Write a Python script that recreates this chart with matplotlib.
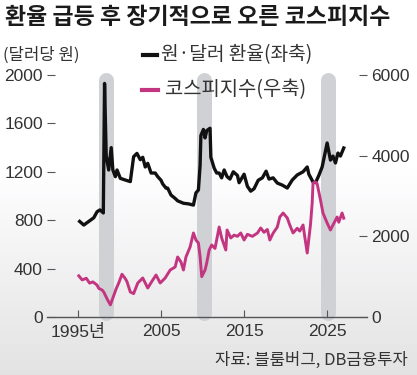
import numpy as np
import matplotlib.pyplot as plt

# 원·달러 환율 (좌축)
fx_year = [1995.2, 1995.7, 1996.3, 1996.9, 1997.3, 1997.65, 1998.05, 1998.2, 1998.4, 1998.7,
           1999.0, 1999.2, 1999.5, 1999.7, 2000.1, 2000.7, 2001.3, 2001.7, 2002.1, 2002.5,
           2002.8, 2003.1, 2003.4, 2003.8, 2004.3, 2004.6, 2005.0, 2005.2, 2005.6, 2005.8,
           2006.2, 2006.7, 2007.0, 2007.7, 2008.3, 2008.9, 2009.2, 2009.5, 2009.7, 2009.8,
           2010.1, 2010.3, 2010.5, 2010.9, 2011.0, 2011.4, 2011.7, 2012.0, 2012.3, 2012.6,
           2012.95, 2013.3, 2013.7, 2014.2, 2014.4, 2015.0, 2015.4, 2015.8, 2016.2, 2016.7,
           2017.2, 2017.65, 2018.0, 2018.5, 2019.0, 2019.6, 2020.2, 2020.8, 2021.4, 2022.1,
           2022.6, 2022.8, 2023.3, 2023.6, 2024.0, 2024.4, 2025.0, 2025.4, 2025.7, 2026.0,
           2026.3, 2026.6, 2026.9, 2027.0]
fx = [790, 760, 790, 820, 870, 885, 860, 1930, 1330, 1215,
      1400, 1215, 1160, 1215, 1146, 1132, 1119, 1325, 1352, 1300,
      1320, 1240, 1270, 1190, 1190, 1160, 1130, 1100, 1065, 1065,
      1008, 980, 960, 940, 935, 925, 1025, 1050, 1250, 1500,
      1550, 1480, 1540, 1560, 1320, 1230, 1190, 1190, 1150, 1215,
      1160, 1140, 1200, 1170, 1110, 1180, 1080, 1040, 1060, 1130,
      1150, 1205, 1140, 1150, 1107, 1090, 1066, 1132, 1174, 1200,
      1240, 1180, 1116, 1110, 1170, 1240, 1438, 1297, 1330, 1273,
      1355, 1330, 1380, 1397]

# 코스피지수 (우축)
kospi_year = [1995.1, 1995.5, 1996.0, 1996.4, 1996.8, 1997.3, 1997.5, 1997.9, 1998.1, 1998.5,
              1998.9, 1999.2, 1999.6, 1999.9, 2000.3, 2000.7, 2000.9, 2001.3, 2001.7, 2002.2,
              2002.8, 2003.4, 2004.0, 2004.4, 2004.9, 2005.5, 2006.1, 2006.7, 2007.0, 2007.4,
              2007.7, 2008.0, 2008.5, 2008.9, 2009.2, 2009.5, 2009.7, 2009.9, 2010.3, 2010.5,
              2010.8, 2011.1, 2011.5, 2012.0, 2012.3, 2012.8, 2012.95, 2013.4, 2013.8, 2014.2,
              2014.6, 2015.0, 2015.4, 2016.0, 2016.6, 2017.0, 2017.4, 2017.8, 2018.1, 2018.5,
              2019.0, 2019.3, 2019.7, 2020.2, 2020.5, 2020.9, 2021.4, 2021.7, 2022.1, 2022.3,
              2022.6, 2023.0, 2023.2, 2023.3, 2023.6, 2023.8, 2024.2, 2024.5, 2025.0, 2025.4,
              2025.7, 2026.2, 2026.4, 2026.8, 2027.0]
kospi = [1020, 920, 960, 840, 870, 790, 710, 670, 620, 450,
         300, 470, 700, 840, 1060, 950, 876, 620, 580, 843,
         967, 719, 917, 1041, 843, 967, 1165, 1240, 1488, 1364,
         1165, 1488, 1736, 2083, 1909, 1835, 1500, 1000, 1165, 1339,
         1661, 1785, 1700, 2231, 1959, 1661, 2157, 1959, 2030, 2000,
         2083, 1909, 2050, 2000, 2080, 2207, 2100, 2170, 1909, 2080,
         2231, 2479, 2578, 2455, 2281, 2083, 2200, 2130, 2281, 2000,
         1587, 2300, 2826, 3322, 3347, 3300, 2901, 2578, 2330, 2157,
         2280, 2479, 2350, 2578, 2450]

bands = [1998.4, 2010.2, 2025.05]
xticks = [1995, 2005, 2015, 2025]
xtick_labels = ['1995년', '2005', '2015', '2025']
left_ticks = [0, 400, 800, 1200, 1600, 2000]
right_ticks = [0, 2000, 4000, 6000]

kr = ['Noto Sans CJK KR', 'DejaVu Sans']
num = ['Liberation Sans', 'Noto Sans CJK KR']
plt.rcParams['font.family'] = kr

fig = plt.figure(figsize=[4.17, 3.75], dpi=100)

# background: white on top, light grey toward the bottom
bg = fig.add_axes([0, 0, 1, 1], zorder=-10)
t = np.linspace(0, 1, 300)[:, None]          # 0 = top, 1 = bottom
shade = np.clip((t - 0.45) / 0.55, 0, 1)
level = 1.0 - 0.11 * shade
img = np.dstack([level, level, level * 1.005]) * np.ones((1, 2, 1))
bg.imshow(np.clip(img, 0, 1), aspect='auto', extent=[0, 1, 0, 1])
bg.axis('off')

ax = fig.add_axes([47 / 417, 58 / 375, 320 / 417, 242 / 375])
ax.patch.set_alpha(0)
ax.set_xlim(1991.27, 2029.8)
ax.set_ylim(0, 2000)

for b in bands:
    ax.plot([b, b], [37, 1955], color='#d0d1d4', lw=10.8,
            solid_capstyle='round', clip_on=False, zorder=1)

ax.plot(fx_year, fx, color='#111111', lw=2.4, zorder=4)

ax2 = ax.twinx()
ax2.set_ylim(0, 6000)
ax2.plot(kospi_year, kospi, color='#c33580', lw=2.1, zorder=3)
ax2.patch.set_alpha(0)

for a in (ax, ax2):
    for s in a.spines.values():
        s.set_visible(False)

ax.axhline(0, color='#555555', lw=1.0, clip_on=False)

ax.set_xticks(xticks)
ax.set_xticklabels(xtick_labels, family=num, fontsize=12.5, color='#333333')
ax.tick_params(axis='x', direction='in', length=5, width=0.8, color='#555555', pad=5)
ax.set_yticks(left_ticks)
ax.set_yticklabels([str(v) for v in left_ticks], family=num, fontsize=12.5, color='#333333')
ax.tick_params(axis='y', direction='in', length=6, width=0.8, color='#555555', pad=3)
ax2.set_yticks(right_ticks)
ax2.set_yticklabels([str(v) for v in right_ticks], family=num, fontsize=12.5, color='#333333')
ax2.tick_params(axis='y', direction='in', length=6, width=0.8, color='#555555', pad=3)

# texts
fig.text(5 / 417, 1 - 17 / 375, '환율 급등 후 장기적으로 오른 코스피지수', fontsize=16.5,
         fontweight='bold', color='#1a1a1a', va='center', ha='left')
fig.text(3 / 417, 1 - 55 / 375, '(달러당 원)', fontsize=12, color='#333333', va='center')
fig.lines.append(plt.Line2D([143 / 417, 157 / 417], [1 - 55 / 375, 1 - 55 / 375],
                            transform=fig.transFigure, color='#111111', lw=3))
fig.text(161 / 417, 1 - 55 / 375, '원·달러 환율(좌축)', fontsize=13.8, color='#333333', va='center')
fig.lines.append(plt.Line2D([142 / 417, 158 / 417], [1 - 90 / 375, 1 - 90 / 375],
                            transform=fig.transFigure, color='#c33580', lw=3))
fig.text(165 / 417, 1 - 90 / 375, '코스피지수(우축)', fontsize=14.3, color='#333333', va='center')
fig.text(408 / 417, 1 - 360 / 375, '자료: 블룸버그, DB금융투자', fontsize=12, color='#333333',
         va='center', ha='right')

plt.savefig('out.png', dpi=100)
